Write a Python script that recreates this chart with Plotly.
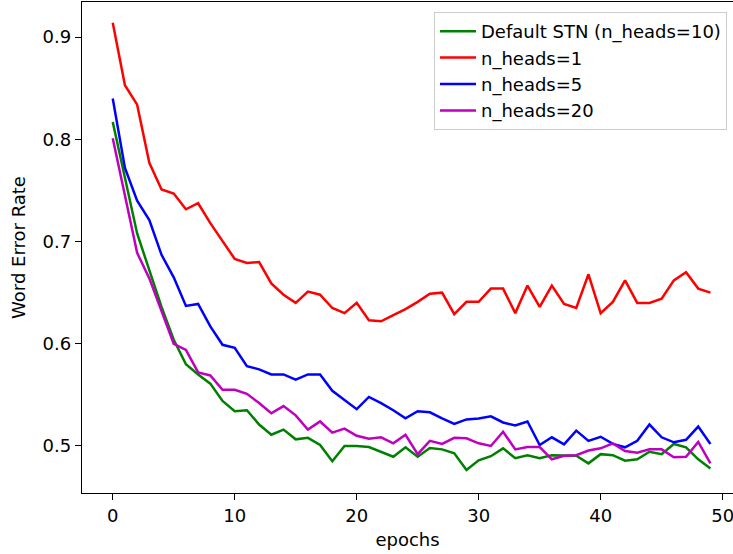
import plotly.graph_objects as go

epochs = list(range(50))

default_stn = [0.817, 0.762, 0.708, 0.672, 0.636, 0.604, 0.580, 0.570, 0.561, 0.544,
               0.534, 0.535, 0.521, 0.511, 0.516, 0.5065, 0.508, 0.501, 0.485, 0.500,
               0.500, 0.499, 0.494, 0.4895, 0.4987, 0.4895, 0.498, 0.4967, 0.4928, 0.4765,
               0.486, 0.490, 0.4977, 0.488, 0.491, 0.488, 0.491, 0.4905, 0.4905, 0.483,
               0.492, 0.491, 0.4856, 0.487, 0.4944, 0.492, 0.502, 0.4987, 0.487, 0.478]

heads_1 = [0.914, 0.853, 0.834, 0.777, 0.751, 0.747, 0.7316, 0.7375, 0.718, 0.700,
           0.683, 0.679, 0.680, 0.659, 0.648, 0.640, 0.651, 0.648, 0.635, 0.630,
           0.640, 0.623, 0.622, 0.628, 0.634, 0.641, 0.649, 0.650, 0.629, 0.641,
           0.641, 0.654, 0.654, 0.630, 0.657, 0.636, 0.657, 0.639, 0.635, 0.668,
           0.630, 0.641, 0.662, 0.640, 0.640, 0.644, 0.662, 0.670, 0.654, 0.650]

heads_5 = [0.840, 0.772, 0.740, 0.721, 0.687, 0.665, 0.637, 0.639, 0.617, 0.599,
           0.596, 0.578, 0.575, 0.570, 0.570, 0.565, 0.570, 0.570, 0.554, 0.545,
           0.536, 0.548, 0.542, 0.535, 0.527, 0.534, 0.533, 0.527, 0.5215, 0.526,
           0.527, 0.529, 0.523, 0.520, 0.524, 0.501, 0.5085, 0.5016, 0.515, 0.505,
           0.509, 0.502, 0.4987, 0.505, 0.521, 0.5085, 0.5036, 0.506, 0.519, 0.502]

heads_20 = [0.801, 0.745, 0.689, 0.664, 0.633, 0.600, 0.594, 0.572, 0.569, 0.555,
            0.555, 0.551, 0.542, 0.532, 0.539, 0.530, 0.516, 0.524, 0.513, 0.517,
            0.510, 0.507, 0.5085, 0.5026, 0.511, 0.492, 0.505, 0.502, 0.508, 0.5075,
            0.5026, 0.500, 0.514, 0.4967, 0.499, 0.499, 0.487, 0.4905, 0.491, 0.4955,
            0.4977, 0.5026, 0.495, 0.4935, 0.4967, 0.4967, 0.489, 0.4895, 0.504, 0.483]

series = [
    ("Default STN (n_heads=10)", default_stn, "#008000"),
    ("n_heads=1", heads_1, "#ff0000"),
    ("n_heads=5", heads_5, "#0000ff"),
    ("n_heads=20", heads_20, "#bf00bf"),
]

fig = go.Figure()
for i, (name, vals, color) in enumerate(series):
    fig.add_trace(go.Scatter(x=epochs, y=vals, mode="lines", name=name,
                             legendgroup=str(i),
                             line=dict(color=color, width=2.5)))

font = "DejaVu Sans, Arial, sans-serif"
fig.update_layout(
    width=733, height=554,
    margin=dict(l=82, r=0, t=2, b=61),
    paper_bgcolor="white", plot_bgcolor="white",
    font=dict(family=font, size=18, color="black"),
    showlegend=True,
    legend=dict(x=0.9908, y=0.9796, xanchor="right", yanchor="top",
                bgcolor="rgba(255,255,255,0.8)", bordercolor="#cccccc", borderwidth=1,
                font=dict(family=font, size=18, color="black"),
                tracegroupgap=0, itemwidth=36),
    xaxis=dict(range=[-2.52, 50.85], tickvals=[0, 10, 20, 30, 40, 50],
               ticktext=["0", "10", "20", "30", "40", "50"],
               ticklabeloverflow="allow",
               showgrid=False, zeroline=False, showline=True, linecolor="black",
               linewidth=1.3, mirror=True, ticks="outside", ticklen=6, tickwidth=1.3,
               tickcolor="black",
               title=dict(text="epochs", standoff=8, font=dict(size=18))),
    yaxis=dict(range=[0.454, 0.9344], tickvals=[0.5, 0.6, 0.7, 0.8, 0.9],
               ticktext=["0.5", "0.6", "0.7", "0.8", "0.9"],
               showgrid=False, zeroline=False, showline=True, linecolor="black",
               linewidth=1.3, ticks="outside", ticklen=6, tickwidth=1.3,
               tickcolor="black",
               title=dict(text="Word Error Rate", standoff=12, font=dict(size=18))),
)

fig.write_html("out.html")
